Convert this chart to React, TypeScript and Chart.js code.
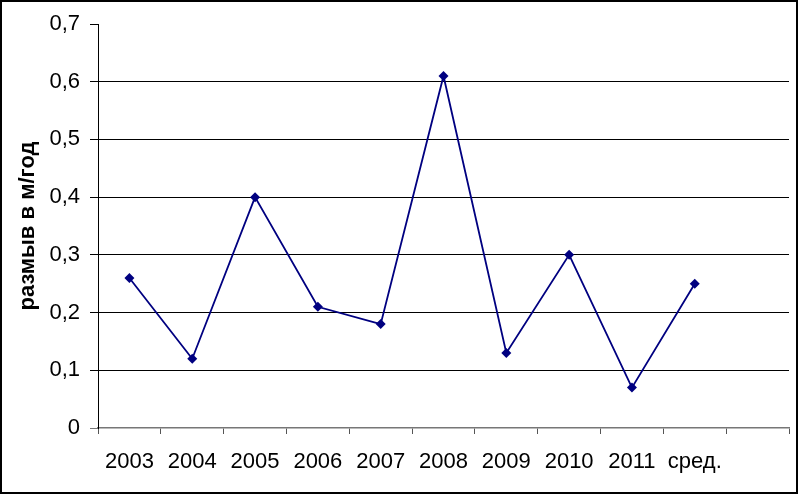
import React, { useEffect, useRef } from 'react';
import { Chart, registerables } from 'chart.js';

Chart.register(...registerables);

const categories = ['2003', '2004', '2005', '2006', '2007', '2008', '2009', '2010', '2011', 'сред.', ''];
const values: (number | null)[] = [0.26, 0.12, 0.40, 0.21, 0.18, 0.61, 0.13, 0.30, 0.07, 0.25, null];
const yMin = 0;
const yMax = 0.7;
const yStep = 0.1;
const yTitle = 'размыв в м/год';

const FONT = '"Liberation Sans", Arial, sans-serif';

const framePlugin = {
  id: 'frame',
  afterDraw(chart: any) {
    const ctx = chart.ctx;
    ctx.save();
    ctx.strokeStyle = '#000';
    ctx.lineWidth = 2;
    ctx.strokeRect(1, 1, chart.width - 2, chart.height - 2);
    ctx.restore();
  },
};

export default function App() {
  const ref = useRef<HTMLCanvasElement | null>(null);
  useEffect(() => {
    if (!ref.current) return;
    const chart = new Chart(ref.current, {
      type: 'line',
      data: {
        labels: categories,
        datasets: [
          {
            data: values,
            borderColor: '#000080',
            backgroundColor: '#000080',
            borderWidth: 1.8,
            pointStyle: 'rectRot',
            pointRadius: 5,
            pointBorderWidth: 0,
            pointBackgroundColor: '#000080',
            tension: 0,
            spanGaps: false,
          },
        ],
      },
      options: {
        animation: false,
        responsive: false,
        devicePixelRatio: 1,
        layout: { padding: { top: 24, right: 9, left: 0, bottom: 0 } },
        plugins: { legend: { display: false }, tooltip: { enabled: false } },
        scales: {
          x: {
            type: 'category',
            offset: true,
            afterFit: (s: any) => {
              s.height = 66;
            },
            grid: {
              offset: true,
              drawOnChartArea: false,
              drawTicks: true,
              tickLength: 6,
              tickColor: '#555',
              lineWidth: 1,
            },
            border: { display: true, color: '#777', width: 1.5 },
            ticks: {
              color: '#000',
              font: { family: FONT, size: 22 },
              padding: 15,
              maxRotation: 0,
              autoSkip: false,
            },
          },
          y: {
            min: yMin,
            max: yMax,
            afterFit: (s: any) => {
              s.width = 98;
            },
            grid: {
              color: (c: any) =>
                c.tick && (Math.abs(c.tick.value - yMax) < 1e-9 || Math.abs(c.tick.value) < 1e-9)
                  ? 'rgba(0,0,0,0)'
                  : '#000',
              tickColor: (c: any) => (c.tick && Math.abs(c.tick.value) < 1e-9 ? '#777' : '#000'),
              tickLength: 8,
              lineWidth: 1,
            },
            border: { display: true, color: '#000', width: 1 },
            ticks: {
              stepSize: yStep,
              color: '#000',
              font: { family: FONT, size: 22 },
              padding: 10,
              callback: (v: any) => {
                const n = Number(v);
                if (Math.abs(n) < 1e-9) return '0';
                return n.toFixed(1).replace('.', ',');
              },
            },
            title: {
              display: true,
              text: yTitle,
              color: '#000',
              font: { family: FONT, size: 22, weight: 'bold' },
              padding: { top: 15, bottom: 0 },
            },
          },
        },
      },
      plugins: [framePlugin],
    });
    return () => chart.destroy();
  }, []);
  return (
    <div style={{ position: 'absolute', left: 0, top: 0, width: 798, height: 494, background: '#fff' }}>
      <canvas ref={ref} width={798} height={494} style={{ display: 'block' }} />
    </div>
  );
}
